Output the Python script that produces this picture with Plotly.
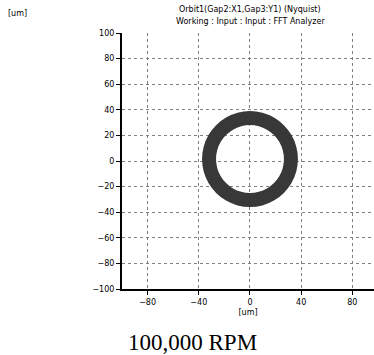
import plotly.graph_objects as go

# Orbit ring points (um)
orbit_x = [32, 30.9, 27.7, 22.6, 16, 8.3, 0, -8.3, -16, -22.6, -27.7, -30.9, -32,
           -30.9, -27.7, -22.6, -16, -8.3, 0, 8.3, 16, 22.6, 27.7, 30.9, 32]
orbit_y = [1.5, 9.8, 17.5, 24.1, 29.2, 32.4, 33.5, 32.4, 29.2, 24.1, 17.5, 9.8, 1.5,
           -6.8, -14.5, -21.1, -26.2, -29.4, -30.5, -29.4, -26.2, -21.1, -14.5, -6.8, 1.5]

x_ticks = [-80, -40, 0, 40, 80]
y_ticks = [100, 80, 60, 40, 20, 0, -20, -40, -60, -80, -100]

title_1 = "Orbit1(Gap2:X1,Gap3:Y1) (Nyquist)"
title_2 = "Working : Input : Input : FFT Analyzer"
unit = "[um]"
caption = "100,000 RPM"

W, H = 374, 355
l, r, t, b = 122, 0, 33, 66
pw, ph = W - l - r, H - t - b

fig = go.Figure()
fig.add_trace(go.Scatter(x=orbit_x, y=orbit_y, mode="lines",
                         line=dict(color="#383838", width=14, shape="spline"),
                         hoverinfo="skip", showlegend=False))

tickfont = dict(family="DejaVu Sans", size=8, color="black")
fig.update_xaxes(range=[-100, 96.9], tickvals=x_ticks, showline=True, linewidth=2,
                 linecolor="black", ticks="outside", ticklen=4, tickcolor="black",
                 showgrid=True, gridcolor="#808080", griddash="dot", gridwidth=1,
                 zeroline=False, tickfont=tickfont,
                 title=dict(text=unit, font=dict(family="DejaVu Sans", size=8, color="black"),
                            standoff=4))
fig.update_yaxes(range=[-100, 100], tickvals=y_ticks, showline=True, linewidth=2,
                 linecolor="black", ticks="outside", ticklen=4, tickcolor="black",
                 showgrid=True, gridcolor="#808080", griddash="dot", gridwidth=1,
                 zeroline=False, tickfont=tickfont)


def ann(text, px, py, font):
    return dict(text=text, xref="paper", yref="paper", xanchor="center", yanchor="middle",
                x=(px - l) / pw, y=(H - b - py) / ph, showarrow=False, font=font)


small = dict(family="DejaVu Sans", size=8, color="black")
fig.update_layout(
    width=W, height=H,
    margin=dict(l=l, r=r, t=t, b=b),
    paper_bgcolor="white", plot_bgcolor="white",
    annotations=[
        ann(title_1, 250, 9, small),
        ann(title_2, 250, 21, small),
        ann(unit, 17, 13, small),
        ann(caption, 192, 342, dict(family="Liberation Serif", size=23, color="black")),
    ],
)

fig.write_html("out.html", config={"displayModeBar": False, "staticPlot": True},
               post_script="document.body.style.margin='0px';document.body.style.overflow='hidden';")
